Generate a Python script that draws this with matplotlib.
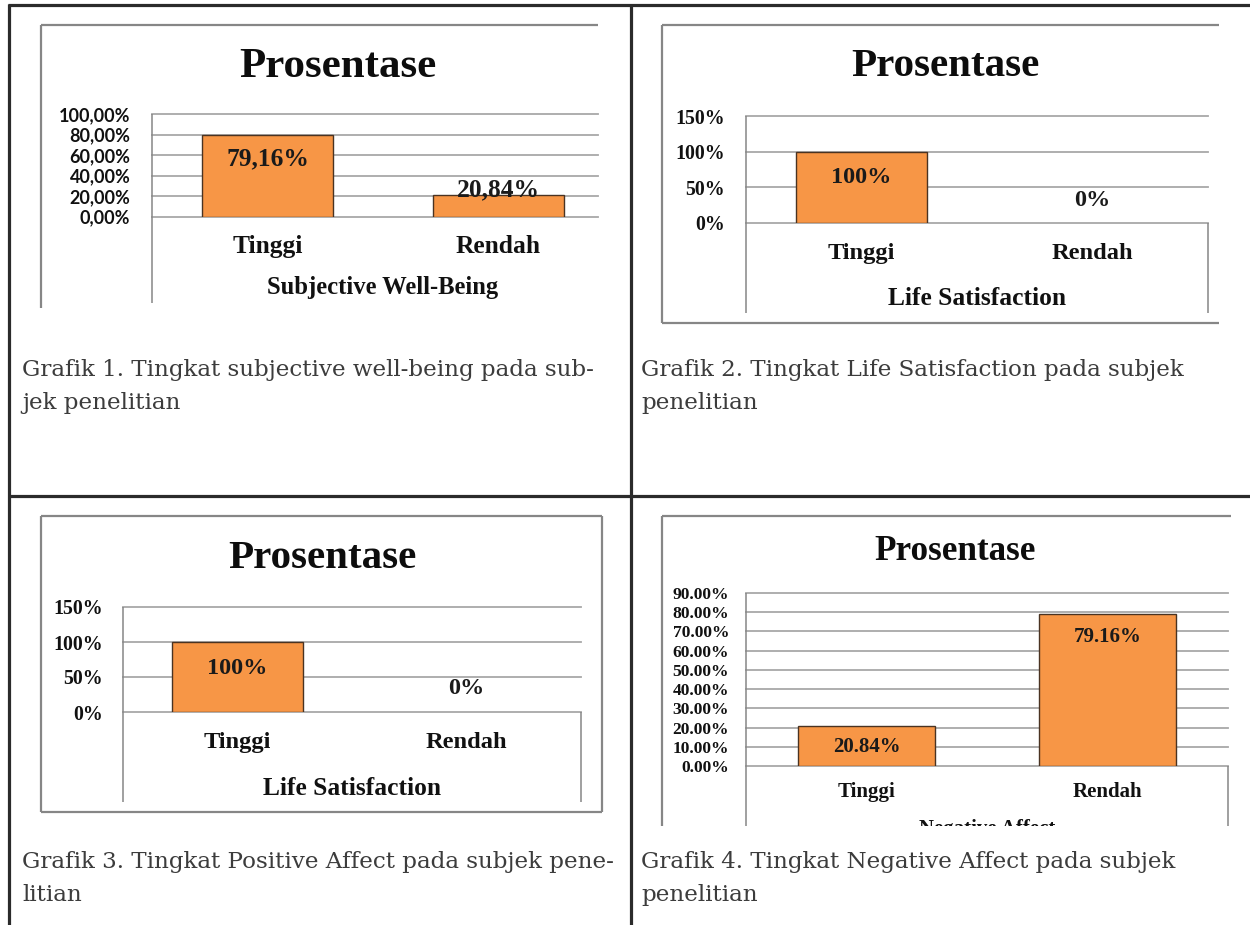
import matplotlib
matplotlib.use("Agg")
import matplotlib.pyplot as plt
from matplotlib.lines import Line2D
from matplotlib.transforms import blended_transform_factory, Bbox, TransformedBbox

# ---------------- data ----------------
categories = ["Tinggi", "Rendah"]
chart_title = "Prosentase"

swb_values = [79.16, 20.84]
swb_labels = ["79,16%", "20,84%"]
swb_ticks = [0, 20, 40, 60, 80, 100]
swb_ticklabels = ["0,00%", "20,00%", "40,00%", "60,00%", "80,00%", "100,00%"]

ls_values = [100, 0]
ls_labels = ["100%", "0%"]
ls_ticks = [0, 50, 100, 150]
ls_ticklabels = ["0%", "50%", "100%", "150%"]

pa_values = [100, 0]
pa_labels = ["100%", "0%"]

na_values = [20.84, 79.16]
na_labels = ["20.84%", "79.16%"]
na_ticks = [0, 10, 20, 30, 40, 50, 60, 70, 80, 90]
na_ticklabels = ["0.00%", "10.00%", "20.00%", "30.00%", "40.00%", "50.00%",
                 "60.00%", "70.00%", "80.00%", "90.00%"]

axis_titles = ["Subjective Well-Being", "Life Satisfaction", "Life Satisfaction", "Negative Affect"]

captions = [
    ["Grafik 1. Tingkat subjective well-being pada sub-", "jek penelitian"],
    ["Grafik 2. Tingkat Life Satisfaction pada subjek", "penelitian"],
    ["Grafik 3. Tingkat Positive Affect pada subjek pene-", "litian"],
    ["Grafik 4. Tingkat Negative Affect pada subjek", "penelitian"],
]

# ---------------- style ----------------
W, H = 1250, 925
BAR = "#F79646"
BAR_EDGE = "#4a3322"
GRID = "#a8a8a8"
FRAME = "#868686"
TABLE = "#2b2b2b"
SERIF = "Liberation Serif"

fig = plt.figure(figsize=(W / 100, H / 100), dpi=100)
fig.patch.set_facecolor("white")


def fx(x):
    return x / W


def fy(y):
    return 1 - y / H


def line(xs, ys, color, lw):
    ln = Line2D([fx(v) for v in xs], [fy(v) for v in ys], transform=fig.transFigure,
                color=color, lw=lw, solid_capstyle="butt")
    fig.add_artist(ln)
    return ln


def clip_box(bottom_px):
    return TransformedBbox(Bbox.from_extents(0, fy(bottom_px), 1, 1), fig.transFigure)


def draw_chart(box, catw, values, labels, ticks, ticklabels, tick_font, tick_fs, tick_pad,
               ylim, title_xy, title_fs, cat_fs, cat_pad, val_fs, val_offsets,
               xtitle, xtitle_base, xtitle_fs, left_bottom, right_x, clip_bottom=None):
    left, top, right, bottom = box
    ax = fig.add_axes([fx(left), fy(bottom), fx(right) - fx(left), (bottom - top) / H])
    ax.set_facecolor("none")
    x = list(range(len(values)))
    lws = [1.0 if v > 0 else 0 for v in values]
    ax.bar(x, values, width=0.57, color=BAR, edgecolor=BAR_EDGE, linewidth=lws, zorder=3)
    ax.set_xlim(-0.5, -0.5 + (right - left) / catw)
    ax.set_ylim(*ylim)
    for s in ax.spines.values():
        s.set_visible(False)
    ax.set_yticks(ticks)
    ax.set_yticklabels(ticklabels, fontsize=tick_fs, fontweight="bold",
                       family=tick_font, color="#111111")
    ax.set_xticks(x)
    ax.set_xticklabels(categories, fontsize=cat_fs, fontweight="bold",
                       family=SERIF, color="#111111")
    ax.tick_params(axis="y", length=0, pad=tick_pad)
    ax.tick_params(axis="x", length=0, pad=cat_pad)
    ax.yaxis.grid(True, color=GRID, lw=1.3)
    ax.set_axisbelow(True)
    for gl in ax.get_ygridlines():
        gl.set_clip_on(False)
    for i, (v, lbl, off) in enumerate(zip(values, labels, val_offsets)):
        ax.annotate(lbl, xy=(i, v), xytext=(0, off), textcoords="offset pixels",
                    ha="center", va="center", fontsize=val_fs, fontweight="bold",
                    family=SERIF, color="#1a1a1a", zorder=4)
    tr = blended_transform_factory(ax.transData, fig.transFigure)
    t = ax.text(0.5, fy(xtitle_base), xtitle, transform=tr, ha="center", va="baseline",
                fontsize=xtitle_fs, fontweight="bold", family=SERIF, color="#111111")
    if clip_bottom is not None:
        t.set_clip_box(clip_box(clip_bottom))
        t.set_clip_on(True)
    else:
        t.set_clip_on(False)
    fig.text(fx(title_xy[0]), fy(title_xy[1]), chart_title, ha="center", va="center",
             fontsize=title_fs, fontweight="bold", family=SERIF, color="#0d0d0d")
    # plot-area border pieces
    line([left, left], [top, left_bottom], FRAME, 1.1)
    if right_x is not None:
        line([right_x, right_x], [bottom, left_bottom], FRAME, 1.1)
    return ax


# ---------------- table grid ----------------
line([8, W], [5, 5], TABLE, 2.3)
line([9, 9], [4, H], TABLE, 2.3)
line([631, 631], [4, H], TABLE, 2.3)
line([9, W], [496, 496], TABLE, 2.3)

# ---------------- chart frames ----------------
# chart 1 (top left): top + left edges visible
line([41, 598], [25, 25], FRAME, 1.6)
line([41, 41], [25, 308], FRAME, 1.6)
# chart 2 (top right)
line([662, 1219], [25, 25], FRAME, 1.6)
line([662, 662], [25, 323], FRAME, 1.6)
line([662, 1219], [323, 323], FRAME, 1.6)
# chart 3 (bottom left): full box
line([41, 602], [516, 516], FRAME, 1.6)
line([41, 602], [812, 812], FRAME, 1.6)
line([41, 41], [516, 812], FRAME, 1.6)
line([602, 602], [516, 812], FRAME, 1.6)
# chart 4 (bottom right)
line([662, 1231], [516, 516], FRAME, 1.6)
line([662, 662], [516, 826], FRAME, 1.6)

# ---------------- charts ----------------
draw_chart((152, 114, 598, 216.7), 231, swb_values, swb_labels, swb_ticks, swb_ticklabels,
           "Lato", 13, 15.5, (0, 100), (338, 67), 31, 18.4, 13.0, 18.4, [-23, 5],
           axis_titles[0], 294, 17.7, 303, None)

draw_chart((746, 116, 1208, 223), 231, ls_values, ls_labels, ls_ticks, ls_ticklabels,
           SERIF, 14.3, 15, (0, 150), (945, 67), 29.5, 17.6, 14.2, 17.5, [-26, 23],
           axis_titles[1], 305, 18.4, 313, 1208)

draw_chart((123, 607, 581, 712), 229, pa_values, pa_labels, ls_ticks, ls_ticklabels,
           SERIF, 14.3, 14.4, (0, 150), (322, 558), 29.5, 17.6, 14.2, 17.5, [-26, 23],
           axis_titles[2], 795, 18.4, 802, 581)

draw_chart((746, 593, 1228, 766), 241, na_values, na_labels, na_ticks, na_ticklabels,
           SERIF, 12.6, 12.2, (0, 90), (955, 551), 25.3, 15, 11.5, 15, [-21, -23],
           axis_titles[3], 834, 15, 826, 1228, clip_bottom=826)

# ---------------- captions ----------------
cap_pos = [(22, 370, 403), (641, 370, 403), (22, 862, 895), (641, 862, 895)]
texts = []
for (xp, y1, y2), lines in zip(cap_pos, captions):
    for yy, s in zip((y1, y2), lines):
        texts.append(fig.text(fx(xp), fy(yy), s, ha="left", va="center", fontsize=14,
                              family="DejaVu Serif", color="#3c3c3c"))
fig.canvas.draw()
w0 = texts[0].get_window_extent().width
fs = 14 * 576 / w0
for t in texts:
    t.set_fontsize(fs)

fig.savefig("out.png", dpi=100, facecolor="white")
